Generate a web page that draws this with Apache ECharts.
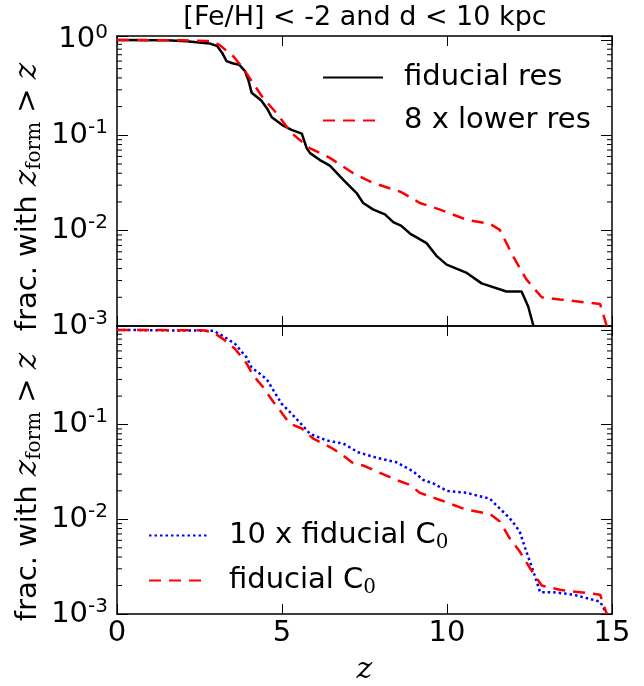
<!DOCTYPE html>
<html><head><meta charset="utf-8">
<script src="https://cdn.jsdelivr.net/npm/echarts@6/dist/echarts.min.js"></script>
<style>html,body{margin:0;padding:0;background:#fff}#c{width:644px;height:686px}</style>
</head><body><div id="c"></div>
<script>
// ---- data ----
const titleText = '[Fe/H] < -2 and d < 10 kpc';
const xTickValues = [0, 5, 10, 15];
const yTickExponents = [-3, -2, -1, 0];

// top panel: fiducial res (black solid)
const fidResZ    = [0, 1.5, 2.1, 2.8, 3.04, 3.2, 3.32, 3.5, 3.7, 3.88, 3.98, 4.08, 4.38, 4.55, 4.69, 5.04, 5.29, 5.6, 5.75, 5.85, 6.15, 6.45, 6.86, 7.26, 7.46, 7.77, 8.12, 8.37, 8.62, 8.9, 9.08, 9.38, 9.69, 9.99, 10.6, 11.05, 11.8, 12.26, 12.46, 12.62];
const fidResFrac = [1.0, 0.99, 0.97, 0.92, 0.86, 0.72, 0.60, 0.57, 0.55, 0.47, 0.38, 0.28, 0.23, 0.19, 0.155, 0.126, 0.114, 0.104, 0.073, 0.065, 0.055, 0.048, 0.034, 0.0248, 0.0195, 0.0166, 0.0148, 0.0123, 0.0112, 0.0092, 0.0085, 0.0074, 0.0054, 0.0044, 0.0036, 0.0028, 0.0023, 0.0023, 0.0016, 0.001];

// top panel: 8 x lower res (red dashed)
const lowResZ    = [0, 2.0, 2.9, 3.12, 3.53, 3.83, 4.13, 4.43, 4.84, 5.29, 5.85, 6.45, 7.16, 7.77, 8.6, 9.18, 9.79, 10.6, 11.3, 11.6, 12.0, 12.4, 12.87, 13.42, 14.64, 14.84];
const lowResFrac = [1.0, 0.99, 0.97, 0.88, 0.67, 0.50, 0.35, 0.245, 0.17, 0.105, 0.073, 0.058, 0.040, 0.0316, 0.0255, 0.0195, 0.0166, 0.013, 0.0118, 0.0102, 0.0054, 0.0031, 0.0020, 0.0019, 0.0017, 0.001];

// bottom panel: 10 x fiducial C0 (blue dotted)
const c0x10Z    = [0, 2.92, 3.22, 3.58, 3.93, 4.08, 4.28, 4.54, 4.74, 4.99, 5.39, 5.85, 6.35, 6.86, 7.31, 7.87, 8.47, 8.98, 9.28, 9.58, 9.99, 10.6, 11.3, 11.5, 11.9, 12.2, 12.4, 12.62, 12.82, 13.22, 13.83, 14.64, 14.84];
const c0x10Frac = [1.0, 0.98, 0.86, 0.71, 0.51, 0.40, 0.356, 0.30, 0.23, 0.166, 0.12, 0.080, 0.068, 0.063, 0.051, 0.0446, 0.040, 0.032, 0.026, 0.024, 0.020, 0.019, 0.0165, 0.014, 0.0103, 0.0075, 0.0046, 0.0028, 0.0017, 0.0017, 0.0016, 0.00135, 0.001];

// bottom panel: fiducial C0 (red dashed)
const c0Z    = [0, 2.6, 2.92, 3.22, 3.58, 3.93, 4.13, 4.43, 4.74, 4.94, 5.24, 5.6, 5.95, 6.45, 6.76, 7.16, 7.46, 7.87, 8.47, 8.88, 9.18, 9.79, 10.6, 11.3, 11.6, 11.9, 12.2, 12.5, 12.87, 13.42, 14.64, 14.84];
const c0Frac = [1.0, 0.99, 0.94, 0.80, 0.63, 0.44, 0.33, 0.248, 0.173, 0.141, 0.102, 0.091, 0.071, 0.058, 0.050, 0.039, 0.037, 0.032, 0.026, 0.023, 0.019, 0.016, 0.0126, 0.0114, 0.0095, 0.0063, 0.0046, 0.0031, 0.0020, 0.0018, 0.0016, 0.001];

// ---- chart ----
const pairs = (xs, ys) => xs.map((x, i) => [x, ys[i]]);
const FONT = 'DejaVu Sans';
const FS = 29;
const Y_MIN = Math.pow(10, yTickExponents[0]);
const Y_MAX = 1.1;
const X_MIN = xTickValues[0], X_MAX = xTickValues[xTickValues.length - 1];

function xAx(grid, pos, showLabels, withName) {
  const a = {
    type: 'value', gridIndex: grid, position: pos, min: X_MIN, max: X_MAX, interval: 5,
    axisLine: {show: true, onZero: false, lineStyle: {color: '#000', width: 1.5}},
    axisTick: {show: true, inside: true, length: 10, lineStyle: {color: '#000', width: 1}},
    axisLabel: {show: showLabels, margin: 5, fontSize: FS, color: '#000', fontFamily: FONT},
    splitLine: {show: false}
  };
  if (withName) {
    a.name = 'z'; a.nameLocation = 'middle'; a.nameGap = 41;
    a.nameTextStyle = {fontFamily: 'DejaVu Serif', fontStyle: 'italic', fontSize: 30, color: '#000'};
  }
  return a;
}
function yAx(grid, pos, showLabels, hideTop) {
  return {
    type: 'log', logBase: 10, gridIndex: grid, position: pos, min: Y_MIN, max: Y_MAX,
    axisLine: {show: true, onZero: false, lineStyle: {color: '#000', width: 1.5}},
    axisTick: {show: true, inside: true, length: 11, lineStyle: {color: '#000', width: 1}},
    axisLabel: {
      show: showLabels, margin: 9,
      formatter: v => {
        const e = Math.log10(v), r = Math.round(e);
        if (Math.abs(e - r) > 1e-6) return '';
        if (yTickExponents.indexOf(r) < 0) return '';
        if (hideTop && r === 0) return '';
        return '{b|10}{s|' + r + '}';
      },
      rich: {
        b: {fontSize: FS, fontFamily: FONT, color: '#000'},
        s: {fontSize: 20, fontFamily: FONT, color: '#000', padding: [0, 0, 15, 0]}
      }
    },
    splitLine: {show: false}
  };
}
function minorTicks(gridIdx) {
  const vals = [];
  for (let e = yTickExponents[0]; e < yTickExponents[yTickExponents.length - 1]; e++)
    for (let m = 2; m <= 9; m++) vals.push([X_MIN, m * Math.pow(10, e)]);
  return {
    type: 'custom', xAxisIndex: gridIdx * 2, yAxisIndex: gridIdx * 2, data: vals, silent: true, z: 1,
    renderItem: (params, api) => {
      const v = api.value(1);
      const p0 = api.coord([X_MIN, v]), p1 = api.coord([X_MAX, v]);
      return {type: 'group', children: [
        {type: 'line', shape: {x1: p0[0], y1: p0[1], x2: p0[0] + 5, y2: p0[1]}, style: {stroke: '#000', lineWidth: 1}},
        {type: 'line', shape: {x1: p1[0] - 5, y1: p1[1], x2: p1[0], y2: p1[1]}, style: {stroke: '#000', lineWidth: 1}}
      ]};
    }
  };
}
function lineSeries(name, grid, data, color, type) {
  return {
    name, type: 'line', xAxisIndex: grid * 2, yAxisIndex: grid * 2, data,
    symbol: 'none', smooth: false, z: 3,
    lineStyle: {color, width: 2.5, type},
    itemStyle: {color}
  };
}
const legendText = {fontSize: FS, fontFamily: FONT, color: '#000', padding: [0, 0, 0, 16],
  rich: {sub: {fontSize: 20, fontFamily: 'DejaVu Serif', color: '#000', padding: [15, 0, 0, 0]}}};
const ylabRich = {
  a: {fontSize: FS, fontFamily: FONT, fill: '#000'},
  z: {fontSize: 31, fontFamily: 'DejaVu Serif', fontStyle: 'italic', fill: '#000'},
  f: {fontSize: 20, fontFamily: 'DejaVu Serif', fill: '#000', padding: [13, 0, 0, 0]},
  g: {fontSize: FS, fontFamily: 'DejaVu Serif', fill: '#000'}
};
const ylabText = '{a|frac. with }{z|z}{f|form}{g| > }{z|z}';

const option = {
  animation: false,
  backgroundColor: '#fff',
  grid: [
    {left: 117, top: 36, width: 495, height: 290},
    {left: 117, top: 326, width: 495, height: 289}
  ],
  xAxis: [xAx(0, 'bottom', false), xAx(0, 'top', false), xAx(1, 'bottom', true, true), xAx(1, 'top', false)],
  yAxis: [yAx(0, 'left', true, false), yAx(0, 'right', false, false), yAx(1, 'left', true, true), yAx(1, 'right', false, false)],
  legend: [
    {data: ['fiducial res', '8 x lower res'], orient: 'vertical', left: 317, top: 58, itemWidth: 60, itemHeight: 2, itemGap: 14,
     selectedMode: false, itemStyle: {opacity: 0}, textStyle: legendText},
    {data: ['10 x fiducial C0', 'fiducial C0'], orient: 'vertical', left: 143, top: 516, itemWidth: 59, itemHeight: 2, itemGap: 13,
     selectedMode: false, itemStyle: {opacity: 0}, formatter: n => n.replace('C0', 'C{sub|0}'), textStyle: legendText}
  ],
  graphic: [
    {type: 'text', x: 365, y: 18, style: {text: titleText, font: '27px "DejaVu Sans"', fill: '#000', align: 'center', verticalAlign: 'middle'}},
    {type: 'text', x: 28, y: 197, rotation: Math.PI / 2, style: {text: ylabText, align: 'center', verticalAlign: 'middle', rich: ylabRich}},
    {type: 'text', x: 28, y: 487, rotation: Math.PI / 2, style: {text: ylabText, align: 'center', verticalAlign: 'middle', rich: ylabRich}}
  ],
  series: [
    minorTicks(0), minorTicks(1),
    lineSeries('fiducial res', 0, pairs(fidResZ, fidResFrac), '#000000', 'solid'),
    lineSeries('8 x lower res', 0, pairs(lowResZ, lowResFrac), '#ff0000', [12, 8]),
    lineSeries('10 x fiducial C0', 1, pairs(c0x10Z, c0x10Frac), '#0000ff', [2.5, 3]),
    lineSeries('fiducial C0', 1, pairs(c0Z, c0Frac), '#ff0000', [12, 8])
  ]
};
const chart = echarts.init(document.getElementById('c'), null, {renderer: 'canvas'});
chart.setOption(option);
</script></body></html>
